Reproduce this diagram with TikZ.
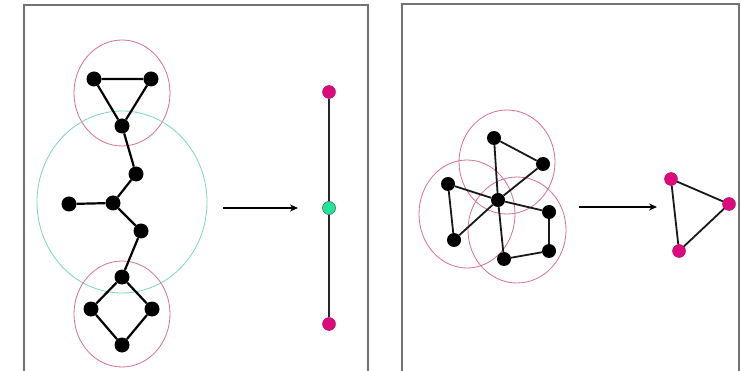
\documentclass[tikz,border=0pt]{standalone}
\usetikzlibrary{arrows.meta}
\definecolor{framegray}{RGB}{115,115,115}
\definecolor{ringpink}{RGB}{215,110,150}
\definecolor{ringcyan}{RGB}{120,215,195}
\definecolor{nodepink}{RGB}{222,10,125}
\definecolor{nodegreen}{RGB}{30,230,150}
\begin{document}
\begin{tikzpicture}[x=1pt,y=-1pt,
  blk/.style={circle,fill=black,inner sep=0pt,minimum size=15pt},
  pnk/.style={circle,fill=nodepink,draw=nodepink!70!black,line width=0.4pt,inner sep=0pt,minimum size=13pt},
  grn/.style={circle,fill=nodegreen,draw=black!70,line width=0.5pt,inner sep=0pt,minimum size=13pt},
  edge/.style={line width=2.2pt,black},
  redge/.style={line width=1.8pt,black!90},
  thinedge/.style={line width=1.6pt,black!85},
  ring/.style={draw=ringpink,line width=0.8pt},
  cring/.style={draw=ringcyan,line width=0.8pt},
  panel/.style={draw=framegray,line width=2pt},
  arr/.style={-{Stealth[length=8pt,width=7pt]},line width=1.5pt}]
\useasboundingbox (0,0) rectangle (741,371);
\fill[white] (0,0) rectangle (741,371);
% panels
\draw[panel] (24,380) -- (24,5) -- (368,5) -- (368,380);
\draw[panel] (402,380) -- (402,4) -- (739,4) -- (739,380);
% left rings
\draw[ring] (122,93) ellipse [x radius=48,y radius=53];
\draw[cring] (122,202) ellipse [x radius=85,y radius=91];
\draw[ring] (122,314) ellipse [x radius=48,y radius=53];
% left graph
\node[blk] (t1) at (94,79) {};
\node[blk] (t2) at (151,79) {};
\node[blk] (t3) at (122,126) {};
\node[blk] (c1) at (136,174) {};
\node[blk] (c0) at (113,203) {};
\node[blk] (cl) at (69,204) {};
\node[blk] (c2) at (141,231) {};
\node[blk] (s1) at (122,277) {};
\node[blk] (s2) at (91,309) {};
\node[blk] (s3) at (152,309) {};
\node[blk] (s4) at (122,345) {};
\draw[edge] (t1) -- (t2) -- (t3) -- (t1);
\draw[edge] (t3) -- (c1) -- (c0) -- (c2) -- (s1);
\draw[edge] (cl) -- (c0);
\draw[edge] (s1) -- (s2) -- (s4) -- (s3) -- (s1);
% left quotient
\node[pnk] (q1) at (329,92) {};
\node[grn] (q2) at (329,208) {};
\node[pnk] (q3) at (329,324) {};
\draw[thinedge] (q1) -- (q2) -- (q3);
\coordinate (a1) at (223,208);
\coordinate (a2) at (298,208);
\draw[arr] (a1) -- (a2);
% right rings
\draw[ring] (507,162) ellipse [x radius=48,y radius=52];
\draw[ring] (467,214) ellipse [x radius=48,y radius=54];
\draw[ring] (517,230) ellipse [x radius=49,y radius=53];
% right graph
\node[blk,minimum size=14pt] (r1) at (494,138) {};
\node[blk,minimum size=14pt] (r2) at (543,164) {};
\node[blk,minimum size=14pt] (r3) at (448,184) {};
\node[blk,minimum size=14pt] (r0) at (498,200) {};
\node[blk,minimum size=14pt] (r4) at (549,212) {};
\node[blk,minimum size=14pt] (r5) at (454,240) {};
\node[blk,minimum size=14pt] (r6) at (549,251) {};
\node[blk,minimum size=14pt] (r7) at (504,259) {};
\draw[redge] (r1) -- (r2) -- (r0) -- (r1);
\draw[redge] (r3) -- (r0) -- (r5) -- (r3);
\draw[redge] (r0) -- (r4) -- (r6) -- (r7) -- (r0);
% right quotient
\node[pnk] (p1) at (671,179) {};
\node[pnk] (p2) at (729,204) {};
\node[pnk] (p3) at (679,251) {};
\draw[redge] (p1) -- (p2) -- (p3) -- (p1);
\coordinate (b1) at (579,207);
\coordinate (b2) at (657,207);
\draw[arr] (b1) -- (b2);
\end{tikzpicture}
\end{document}
